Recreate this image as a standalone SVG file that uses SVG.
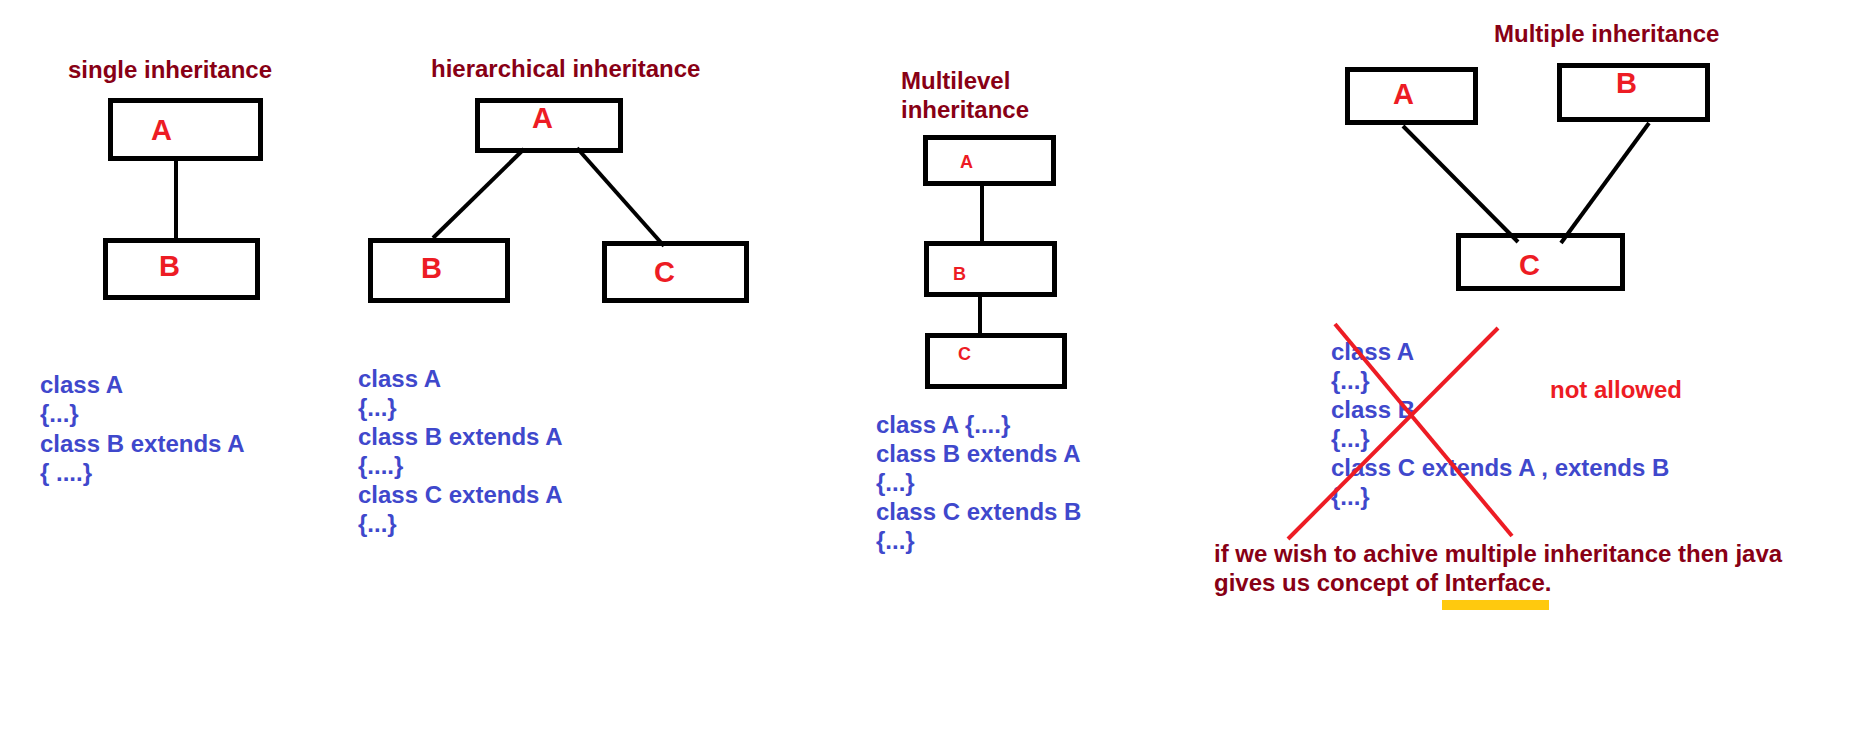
<svg xmlns="http://www.w3.org/2000/svg" width="1852" height="743" viewBox="0 0 1852 743">
<style>
.box{fill:none;stroke:#000;stroke-width:5}
.ln{stroke:#000;stroke-width:4;fill:none}
.lbl{font-family:"Liberation Sans",Arial,sans-serif;font-weight:bold;font-size:29px;fill:#ED1C24}
.sml{font-family:"Liberation Sans",Arial,sans-serif;font-weight:bold;font-size:18px;fill:#ED1C24}
.ttl{font-family:"Liberation Sans",Arial,sans-serif;font-weight:bold;font-size:24px;fill:#880015}
.code{font-family:"Liberation Sans",Arial,sans-serif;font-weight:bold;font-size:24px;fill:#3F48CC}
.red{font-family:"Liberation Sans",Arial,sans-serif;font-weight:bold;font-size:24px;fill:#ED1C24}
.x{stroke:#ED1C24;stroke-width:4;fill:none}
</style>
<rect width="1852" height="743" fill="#fff"/>
<g id="titles">
<text class="ttl" x="68" y="78">single inheritance</text>
<text class="ttl" x="431" y="77">hierarchical inheritance</text>
<text class="ttl" x="901" y="89">Multilevel</text>
<text class="ttl" x="901" y="118">inheritance</text>
<text class="ttl" x="1494" y="42">Multiple inheritance</text>
</g>
<g id="connectors">
<line class="ln" x1="176" y1="156" x2="176" y2="243"/>
<line class="ln" x1="524" y1="149" x2="433" y2="238"/>
<line class="ln" x1="577" y1="148" x2="664" y2="246"/>
<line class="ln" x1="982" y1="186" x2="982" y2="244"/>
<line class="ln" x1="980" y1="297" x2="980" y2="333"/>
<line class="ln" x1="1403" y1="126" x2="1518" y2="242"/>
<line class="ln" x1="1649" y1="123" x2="1561" y2="243"/>
</g>
<g id="single-A"><rect class="box" x="110.5" y="100.5" width="150" height="58"/><text class="lbl" x="151" y="140">A</text></g>
<g id="single-B"><rect class="box" x="105.5" y="240.5" width="152" height="57"/><text class="lbl" x="159" y="276">B</text></g>
<g id="hier-A"><rect class="box" x="477.5" y="100.5" width="143" height="50"/><text class="lbl" x="532" y="128">A</text></g>
<g id="hier-B"><rect class="box" x="370.5" y="240.5" width="137" height="60"/><text class="lbl" x="421" y="278">B</text></g>
<g id="hier-C"><rect class="box" x="604.5" y="243.5" width="142" height="57"/><text class="lbl" x="654" y="282">C</text></g>
<g id="ml-A"><rect class="box" x="925.5" y="137.5" width="128" height="46"/><text class="sml" x="960" y="168">A</text></g>
<g id="ml-B"><rect class="box" x="926.5" y="243.5" width="128" height="51"/><text class="sml" x="953" y="280">B</text></g>
<g id="ml-C"><rect class="box" x="927.5" y="335.5" width="137" height="51"/><text class="sml" x="958" y="360">C</text></g>
<g id="mult-A"><rect class="box" x="1347.5" y="69.5" width="128" height="53"/><text class="lbl" x="1393" y="104">A</text></g>
<g id="mult-B"><rect class="box" x="1559.5" y="65.5" width="148" height="54"/><text class="lbl" x="1616" y="93">B</text></g>
<g id="mult-C"><rect class="box" x="1458.5" y="235.5" width="164" height="53"/><text class="lbl" x="1519" y="275">C</text></g>
<g id="code-single">
<text class="code" x="40" y="393">class A</text>
<text class="code" x="40" y="422">{...}</text>
<text class="code" x="40" y="452">class B extends A</text>
<text class="code" x="40" y="481">{ ....}</text>
</g>
<g id="code-hier">
<text class="code" x="358" y="387">class A</text>
<text class="code" x="358" y="416">{...}</text>
<text class="code" x="358" y="445">class B extends A</text>
<text class="code" x="358" y="474">{....}</text>
<text class="code" x="358" y="503">class C extends A</text>
<text class="code" x="358" y="532">{...}</text>
</g>
<g id="code-ml">
<text class="code" x="876" y="433">class A {....}</text>
<text class="code" x="876" y="462">class B extends A</text>
<text class="code" x="876" y="491">{...}</text>
<text class="code" x="876" y="520">class C extends B</text>
<text class="code" x="876" y="549">{...}</text>
</g>
<g id="code-mult">
<text class="code" x="1331" y="360">class A</text>
<text class="code" x="1331" y="389">{...}</text>
<text class="code" x="1331" y="418">class B</text>
<text class="code" x="1331" y="447">{...}</text>
<text class="code" x="1331" y="476">class C extends A , extends B</text>
<text class="code" x="1331" y="505">{...}</text>
</g>
<g id="cross">
<line class="x" x1="1335" y1="324" x2="1512" y2="536"/>
<line class="x" x1="1498" y1="328" x2="1288" y2="539"/>
</g>
<text class="red" x="1550" y="398">not allowed</text>
<g id="note">
<text class="ttl" x="1214" y="562">if we wish to achive multiple inheritance then java</text>
<text class="ttl" x="1214" y="591">gives us concept of Interface.</text>
<rect x="1442" y="600" width="107" height="10" fill="#FFC90E"/>
</g>
</svg>
